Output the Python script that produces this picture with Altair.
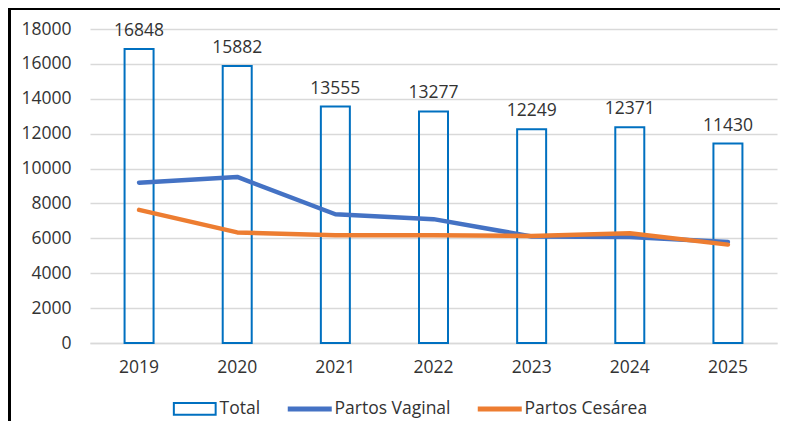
import altair as alt
import pandas as pd

years = ["2019", "2020", "2021", "2022", "2023", "2024", "2025"]
total = [16848, 15882, 13555, 13277, 12249, 12371, 11430]
vaginal = [9190, 9520, 7380, 7100, 6110, 6070, 5790]
cesarea = [7630, 6340, 6175, 6170, 6139, 6290, 5640]
y_ticks = [0, 2000, 4000, 6000, 8000, 10000, 12000, 14000, 16000, 18000]
series_names = ["Total", "Partos Vaginal", "Partos Cesárea"]
series_colors = ["#0070C0", "#4472C4", "#ED7D31"]

df_total = pd.DataFrame({"year": years, "value": total, "series": "Total"})
df_lines = pd.concat([
    pd.DataFrame({"year": years, "value": vaginal, "series": "Partos Vaginal"}),
    pd.DataFrame({"year": years, "value": cesarea, "series": "Partos Cesárea"}),
])

FONT = "Open Sans"
FS = 17.5
TXT = "#333333"
GRID = "#d9d9d9"

x_enc = alt.X("year:N", sort=years, title=None,
              scale=alt.Scale(paddingInner=0, paddingOuter=0),
              axis=alt.Axis(labelAngle=0, ticks=False, domainColor=GRID,
                            domainWidth=1.5, labelPadding=15, grid=False))
y_enc = alt.Y("value:Q", title=None,
              scale=alt.Scale(domain=[0, 18000], nice=False),
              axis=alt.Axis(values=y_ticks, ticks=False,
                            domain=False, gridColor=GRID, gridWidth=1.5,
                            labelPadding=19, format="d", labelOverlap=False))

legend = alt.Legend(
    title=None, orient="none", direction="horizontal",
    legendX=81, legendY=371, symbolSize=1936, symbolOffset=15, labelOffset=16,
    columnPadding=16, labelFont=FONT, labelFontSize=FS, labelColor=TXT,
    symbolType={"expr": "datum.value === 'Total' ? 'M-0.95,-0.27H0.95V0.27H-0.95Z' : 'M-1,0H1'"},
    symbolStrokeWidth={"expr": "datum.value === 'Total' ? 2 : 5"},
    symbolFillColor={"expr": "datum.value === 'Total' ? 'white' : 'transparent'"},
    symbolOpacity=1,
)
color_enc = alt.Color("series:N",
                      scale=alt.Scale(domain=series_names, range=series_colors),
                      legend=legend)

bars = alt.Chart(df_total).mark_bar(filled=False, size=29, strokeWidth=2).encode(
    x=x_enc, y=y_enc, color=color_enc)

labels = alt.Chart(df_total).mark_text(
    dy=-13, baseline="alphabetic", font=FONT, fontSize=FS, color=TXT
).encode(x=x_enc, y=y_enc, text=alt.Text("value:Q", format="d"))

lines = alt.Chart(df_lines).mark_line(
    strokeWidth=4.5, strokeCap="round", strokeJoin="round"
).encode(x=x_enc, y=y_enc, color=color_enc)

border_data = alt.Data(values=[{"k": 1}])
top_border = alt.Chart(border_data).mark_rule(color="black", strokeWidth=3).encode(
    x=alt.value(-82), x2=alt.value(700), y=alt.value(-20.5))
left_border = alt.Chart(border_data).mark_rule(color="black", strokeWidth=3).encode(
    x=alt.value(-80.5), y=alt.value(-22), y2=alt.value(420))

chart = alt.layer(bars, lines, labels, top_border, left_border).properties(
    width=687, height=314,
    padding={"left": 82, "top": 21, "right": 3, "bottom": 78},
    autosize=alt.AutoSizeParams(type="none"),
).configure_view(stroke=None).configure_axis(
    labelFont=FONT, labelFontSize=FS, labelColor=TXT
)

chart.save("out.html", embed_options={"renderer": "svg", "actions": False})
